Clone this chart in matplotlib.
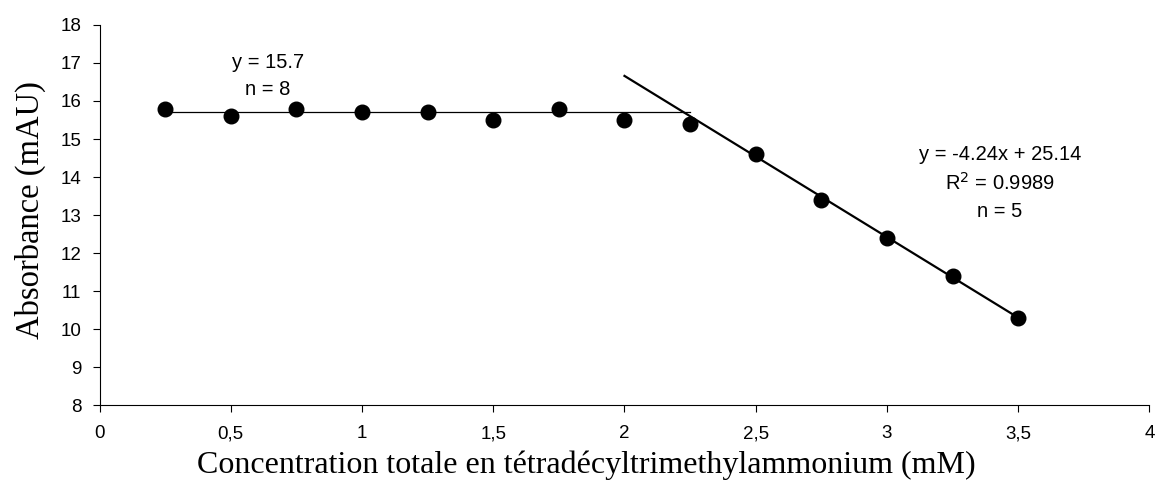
import numpy as np
import matplotlib
matplotlib.use("Agg")
import matplotlib.pyplot as plt

# data
conc = [0.25, 0.5, 0.75, 1.0, 1.25, 1.5, 1.75, 2.0, 2.25, 2.5, 2.75, 3.0, 3.25, 3.5]
absorb = [15.8, 15.6, 15.8, 15.7, 15.7, 15.5, 15.8, 15.5, 15.4, 14.6, 13.4, 12.4, 11.4, 10.3]
plateau = 15.7
plateau_x = [0.25, 2.25]
slope = -4.24
intercept = 25.14
fit_x = [2.0, 3.5]
xticks = [0, 0.5, 1, 1.5, 2, 2.5, 3, 3.5, 4]
xticklabels = ["0", "0,5", "1", "1,5", "2", "2,5", "3", "3,5", "4"]
yticks = list(range(8, 19))

fig = plt.figure(figsize=(11.57, 4.8), dpi=100)
ax = fig.add_axes([0.086, 0.156, 0.9075, 0.792])

ax.plot(plateau_x, [plateau, plateau], color="black", lw=0.9, zorder=2)
fx = np.array(fit_x)
ax.plot(fx, slope * fx + intercept, color="black", lw=1.6, zorder=2)
ax.plot(conc, absorb, "o", color="black", ms=10.5, zorder=3)

ax.set_xlim(0, 4)
ax.set_ylim(8, 18)
ax.set_xticks(xticks)
ax.set_xticklabels(xticklabels)
ax.set_yticks(yticks)
for s in ["top", "right"]:
    ax.spines[s].set_visible(False)
for s in ["left", "bottom"]:
    ax.spines[s].set_linewidth(0.8)
ax.tick_params(direction="out", length=5, width=0.8, labelsize=13.5)
for lab in ax.get_xticklabels() + ax.get_yticklabels():
    lab.set_family("Liberation Sans")
ax.tick_params(axis="x", pad=9.5)
ax.tick_params(axis="y", pad=8)

# axis titles (Times-like serif)
fig.text(0.507, 0.0146, "Concentration totale en tétradécyltrimethylammonium (mM)",
         family="Liberation Serif", fontsize=23, ha="center", va="baseline")
fig.text(0.026, 0.5625, "Absorbance (mAU)", family="Liberation Serif",
         fontsize=23.5, rotation=90, ha="center", va="center")

tk = dict(family="Liberation Sans", fontsize=14.5, ha="center", va="center")
ax.text(0.642, 17.0, "y = 15.7", **tk)
ax.text(0.642, 16.29, "n = 8", **tk)
ax.text(3.43, 14.58, "y = -4.24x + 25.14", **tk)
ax.text(3.43, 13.84, "R$^2$ = 0.9989", **tk)
ax.text(3.43, 13.08, "n = 5", **tk)

fig.savefig("out.png", dpi=100)
